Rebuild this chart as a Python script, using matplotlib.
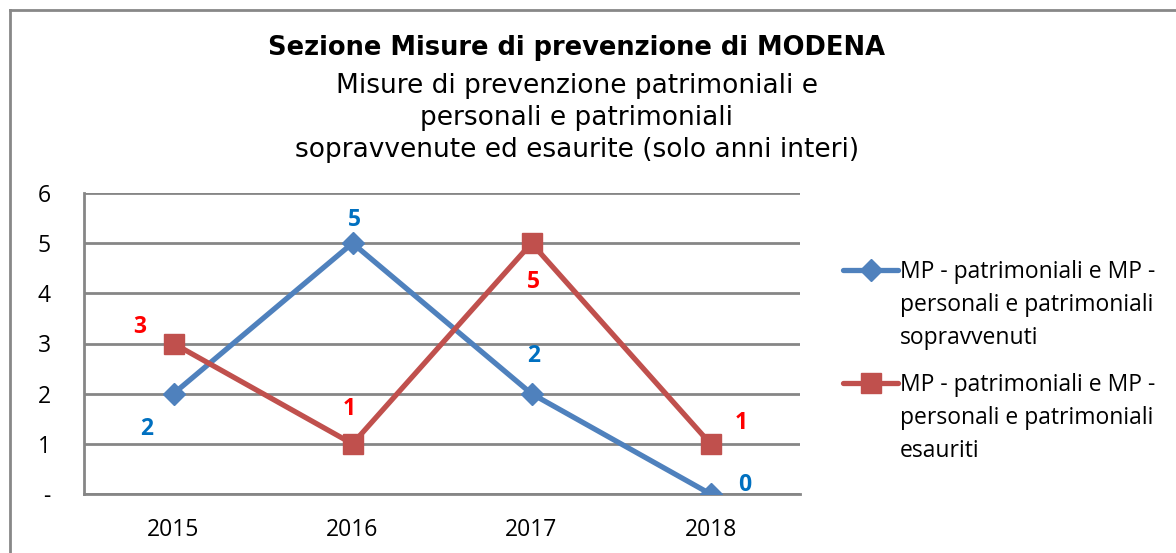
import matplotlib
matplotlib.use("Agg")
import matplotlib.pyplot as plt
from matplotlib.lines import Line2D

years = ["2015", "2016", "2017", "2018"]
sopravvenuti = [2, 5, 2, 0]
esauriti = [3, 1, 5, 1]
ytick_labels = ["-", "1", "2", "3", "4", "5", "6"]

label1 = ["MP - patrimoniali e MP -", "personali e patrimoniali", "sopravvenuti"]
label2 = ["MP - patrimoniali e MP -", "personali e patrimoniali", "esauriti"]

blue = "#4F81BD"
red = "#C0504D"
blue_txt = "#0070C0"
red_txt = "#FF0000"
grid_col = "#868686"

body_font = "Open Sans"

fig = plt.figure(figsize=(11.76, 5.53), dpi=100)
ax = fig.add_axes([84 / 1176, 1 - 494 / 553, 716 / 1176, 301 / 553])

x = list(range(len(years)))
l1, = ax.plot(x, sopravvenuti, color=blue, lw=3.8, marker="D", ms=11,
              solid_capstyle="round", zorder=3)
l2, = ax.plot(x, esauriti, color=red, lw=3.8, marker="s", ms=14,
              solid_capstyle="round", zorder=3)

ax.set_xlim(-0.5, 3.5)
ax.set_ylim(0, 6)
ax.set_yticks(range(7))
ax.set_yticklabels(ytick_labels)
ax.set_xticks(x)
ax.set_xticklabels(years)
ax.yaxis.grid(True, color=grid_col, lw=2)
ax.set_axisbelow(True)
for s in ["top", "right"]:
    ax.spines[s].set_visible(False)
ax.spines["left"].set_color(grid_col)
ax.spines["left"].set_linewidth(2)
ax.spines["bottom"].set_color(grid_col)
ax.spines["bottom"].set_linewidth(2)
ax.tick_params(length=0, labelsize=16.5)
ax.tick_params(axis="x", pad=17)
ax.tick_params(axis="y", pad=24)
for t in ax.get_xticklabels() + ax.get_yticklabels():
    t.set_fontfamily(body_font)

# data labels (blue series)
blue_off = [(-0.15, -0.7), (0.01, 0.47), (0.01, 0.75), (0.19, 0.18)]
for xi, v, (dx, dy) in zip(x, sopravvenuti, blue_off):
    ax.text(xi + dx, v + dy, str(v), color=blue_txt, fontsize=16.5,
            fontweight="bold", ha="center", va="center", family=body_font)

red_off = [(-0.19, 0.33), (-0.02, 0.7), (0.01, -0.77), (0.17, 0.42)]
for xi, v, (dx, dy) in zip(x, esauriti, red_off):
    ax.text(xi + dx, v + dy, str(v), color=red_txt, fontsize=16.5,
            fontweight="bold", ha="center", va="center", family=body_font)

fig.text(577 / 1176, 1 - 48 / 553, "Sezione Misure di prevenzione di MODENA",
         ha="center", va="center", fontsize=18.5, fontweight="bold",
         family="DejaVu Sans")
fig.text(577 / 1176, 1 - 118 / 553,
         "Misure di prevenzione patrimoniali e\npersonali e patrimoniali\n"
         "sopravvenute ed esaurite (solo anni interi)",
         ha="center", va="center", fontsize=19, family="DejaVu Sans",
         linespacing=1.32)

# legend: handle sits on the first line of each entry, like the original
blank = Line2D([], [], color="none")
for handle, lines, yc in [(l1, label1, 305), (l2, label2, 418)]:
    leg = fig.legend([handle, blank, blank], lines, loc="center left",
                     bbox_to_anchor=(832 / 1176, 1 - yc / 553),
                     frameon=False, prop={"family": body_font, "size": 16.5},
                     handlelength=2.4, handletextpad=0.05, labelspacing=0.4,
                     borderpad=0)

# outer frame (top and left edges)
fig.add_artist(Line2D([10 / 1176, 10 / 1176], [0, 1 - 10 / 553],
                      transform=fig.transFigure, color="#888888", lw=2))
fig.add_artist(Line2D([10 / 1176, 1], [1 - 10 / 553, 1 - 10 / 553],
                      transform=fig.transFigure, color="#888888", lw=2))

fig.savefig("out.png", dpi=100)
